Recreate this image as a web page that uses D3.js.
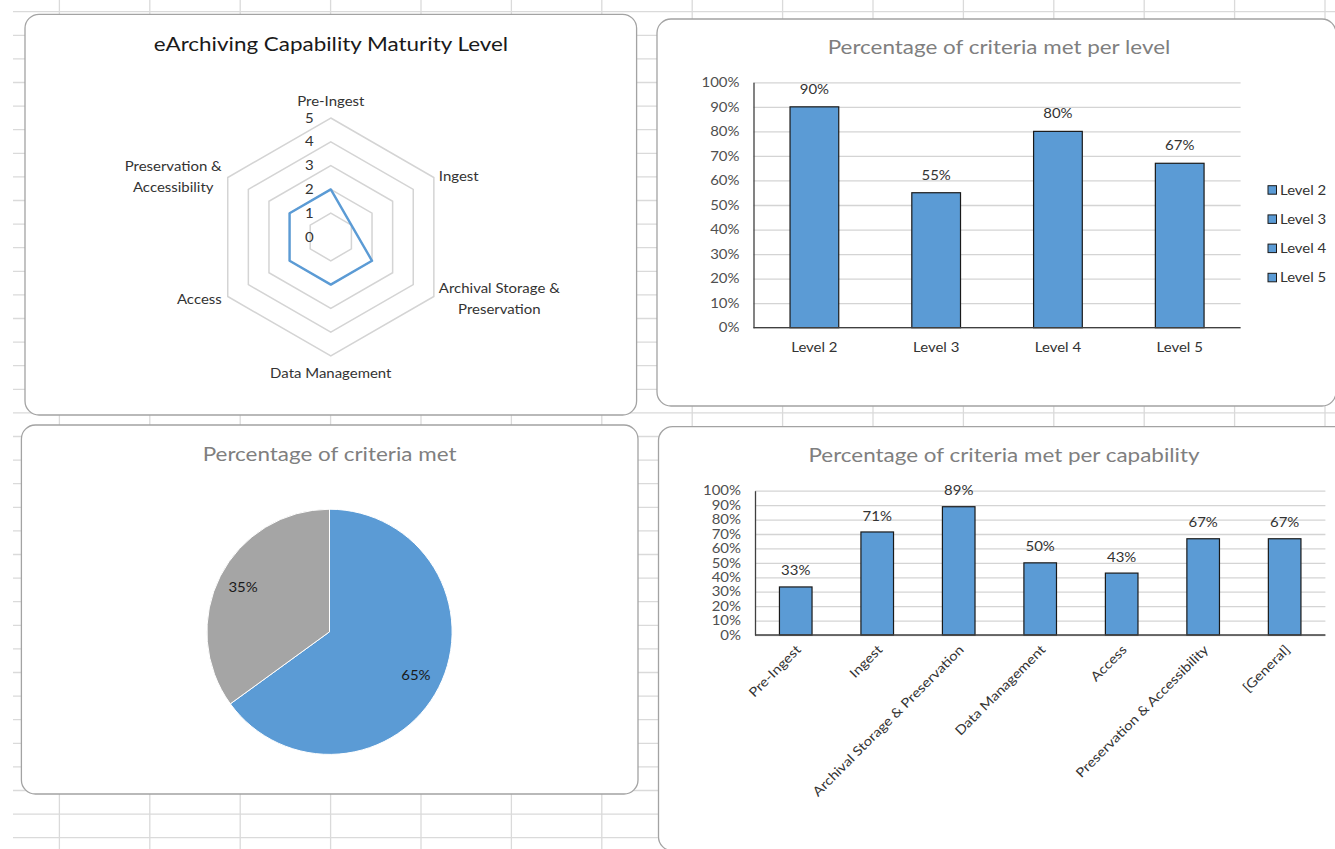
<!DOCTYPE html>
<html>
<head>
<meta charset="utf-8">
<script src="https://cdn.jsdelivr.net/npm/d3@7"></script>
<style>
html,body{margin:0;padding:0;background:#fff;overflow:hidden}
svg{display:block}
</style>
</head>
<body>
<svg id="c" width="1335" height="849"></svg>
<script>
// ---------------- DATA ----------------
const radarTitle = "eArchiving Capability Maturity Level";
const radarAxes = ["Pre-Ingest", "Ingest", "Archival Storage & Preservation", "Data Management", "Access", "Preservation & Accessibility"];
const radarAxisLines = [["Pre-Ingest"], ["Ingest"], ["Archival Storage &", "Preservation"], ["Data Management"], ["Access"], ["Preservation &", "Accessibility"]];
const radarValues = [2, 1, 2, 2, 2, 2];
const radarTicks = [0, 1, 2, 3, 4, 5];

const levelTitle = "Percentage of criteria met per level";
const levels = ["Level 2", "Level 3", "Level 4", "Level 5"];
const levelValues = [0.90, 0.55, 0.80, 0.67];

const pieTitle = "Percentage of criteria met";
const pieCategories = ["Met", "Not met"];
const pieValues = [0.65, 0.35];

const capabilityTitle = "Percentage of criteria met per capability";
const capabilities = ["Pre-Ingest", "Ingest", "Archival Storage & Preservation", "Data Management", "Access", "Preservation & Accessibility", "[General]"];
const capabilityValues = [0.333, 0.714, 0.889, 0.50, 0.429, 0.667, 0.667];

const percentTicks = [0, 0.1, 0.2, 0.3, 0.4, 0.5, 0.6, 0.7, 0.8, 0.9, 1.0];

// ---------------- STYLE ----------------
const FONT = 'Lato, "Open Sans", sans-serif';
const SX = 1.15;               // horizontal text stretch
const BLUE = "#5b9bd5", GREY = "#a5a5a5";
const pct = d3.format(".0%");

const svg = d3.select("#c");

function txt(g, s, size, fill) {
  return g.append("text").text(s).attr("font-size", size).attr("fill", fill).attr("font-family", FONT);
}

// ---------------- SHEET GRID ----------------
const sheet = svg.append("g");
sheet.append("rect").attr("width", 1335).attr("height", 849).attr("fill", "#fff");
sheet.selectAll("line.v").data(d3.range(59.4, 1335, 90.4)).join("line")
  .attr("x1", d => d).attr("x2", d => d).attr("y1", 0).attr("y2", 849)
  .attr("stroke", "#dadada").attr("stroke-width", 1.3);
sheet.selectAll("line.h").data(d3.range(11.7, 849, 23.6)).join("line")
  .attr("x1", 13).attr("x2", 1335).attr("y1", d => d).attr("y2", d => d)
  .attr("stroke", "#dadada").attr("stroke-width", 1.3);

// ---------------- PANELS ----------------
const panels = [
  {x: 25, y: 14.3, w: 611.6, h: 400.7},
  {x: 657, y: 19, w: 679, h: 387},
  {x: 21.4, y: 425, w: 616.6, h: 369},
  {x: 658.5, y: 426.7, w: 700, h: 424}
];
svg.append("g").selectAll("rect").data(panels).join("rect")
  .attr("x", d => d.x).attr("y", d => d.y).attr("width", d => d.w).attr("height", d => d.h)
  .attr("rx", 14).attr("fill", "#fff").attr("stroke", "#a3a3a3").attr("stroke-width", 1.3);

// ---------------- RADAR ----------------
(function () {
  const g = svg.append("g");
  const cx = 330.8, cy = 237, R = 119;
  const r = d3.scaleLinear().domain([0, 5]).range([0, R]);
  const ang = d3.scalePoint().domain(radarAxes).range([0, 2 * Math.PI * 5 / 6]);
  const pt = (a, v) => [cx + r(v) * Math.sin(a), cy - r(v) * Math.cos(a)];

  txt(g, radarTitle, 19.5, "#1a1a1a").attr("x", 331).attr("y", 51).attr("text-anchor", "middle");

  radarTicks.filter(t => t > 0).forEach(t => {
    g.append("path")
      .attr("d", d3.line()(radarAxes.map(a => pt(ang(a), t))) + "Z")
      .attr("fill", "none").attr("stroke", "#d4d4d4").attr("stroke-width", 1.5);
  });
  radarTicks.forEach(t => {
    txt(g, String(t), 13, "#333").attr("x", cx - 17).attr("y", cy - r(t)).attr("dy", "0.35em").attr("text-anchor", "end");
  });

  g.append("path")
    .attr("d", d3.line()(radarAxes.map((a, i) => pt(ang(a), radarValues[i]))) + "Z")
    .attr("fill", "none").attr("stroke", BLUE).attr("stroke-width", 2.4).attr("stroke-linejoin", "round");

  radarAxes.forEach((a, i) => {
    const th = ang(a);
    const [vx, vy] = pt(th, 5);
    const lines = radarAxisLines[i];
    const ts = lines.map(l => txt(g, l, 13, "#333").attr("text-anchor", "middle").attr("dy", "0.35em"));
    const maxW = d3.max(ts, t => t.node().getComputedTextLength()) * SX;
    const lh = 21, tot = (lines.length - 1) * lh;
    const s = Math.sin(th), c = Math.cos(th);
    let x, y0;
    if (Math.abs(s) < 0.01) { x = vx; y0 = vy + (c > 0 ? -17 : 17) - tot / 2; }
    else if (s > 0) { x = vx + 5 + maxW / 2; y0 = vy + (c < 0 ? 2 : -1) - tot / 2; }
    else { x = vx - 6 - maxW / 2; y0 = vy + (c < 0 ? 3 : -1) - tot / 2; }
    ts.forEach((t, j) => t.attr("x", x).attr("y", y0 + j * lh));
  });
})();

// ---------------- BAR CHART helper ----------------
function barChart(g, cats, vals, o) {
  const x = d3.scaleBand().domain(cats).range([o.x0, o.x1]).paddingInner(0.6).paddingOuter(0.3);
  const y = d3.scaleLinear().domain([0, 1]).range([o.yb, o.yt]);
  // gridlines
  g.append("g").attr("transform", `translate(${o.x0},0)`)
    .call(d3.axisLeft(y).tickValues(percentTicks).tickSize(-(o.x1 - o.x0)).tickFormat(""))
    .call(s => { s.select(".domain").remove(); s.selectAll("line").attr("stroke", "#d4d4d4").attr("stroke-width", 1.3); });
  // y labels
  g.append("g").attr("transform", `translate(${o.x0},0)`)
    .call(d3.axisLeft(y).tickValues(percentTicks).tickSize(0).tickPadding(o.ypad).tickFormat(pct))
    .call(s => {
      s.select(".domain").remove();
      s.selectAll("text").attr("font-size", 13).attr("font-family", FONT).attr("fill", "#505050");
    });
  // bars
  g.append("g").selectAll("rect").data(vals).join("rect")
    .attr("x", (d, i) => x(cats[i])).attr("width", x.bandwidth())
    .attr("y", d => y(d)).attr("height", d => y(0) - y(d))
    .attr("fill", BLUE).attr("stroke", "#1a1a1a").attr("stroke-width", 1.2);
  // data labels
  g.append("g").selectAll("text").data(vals).join("text")
    .attr("x", (d, i) => x(cats[i]) + x.bandwidth() / 2).attr("y", d => y(d) - o.lab)
    .attr("dy", "0.35em").attr("text-anchor", "middle")
    .attr("font-size", 13).attr("font-family", FONT).attr("fill", "#333")
    .text(d => pct(d));
  // y axis line
  g.append("g").attr("transform", `translate(${o.x0},0)`)
    .call(d3.axisLeft(y).tickValues([]).tickSizeOuter(0))
    .call(s => s.select(".domain").attr("stroke", "#404040").attr("stroke-width", 1.3));
  // x axis
  const xa = g.append("g").attr("transform", `translate(0,${o.yb})`)
    .call(d3.axisBottom(x).tickSize(0).tickSizeOuter(0));
  xa.select(".domain").attr("stroke", "#404040").attr("stroke-width", 1.3).attr("d", `M${o.x0},0H${o.x1}`);
  xa.selectAll("text").attr("font-size", 13).attr("font-family", FONT).attr("fill", "#333");
  return {x, y, xa};
}

// ---------------- LEVEL BAR CHART ----------------
(function () {
  const g = svg.append("g");
  txt(g, levelTitle, 19.5, "#7f7f7f").attr("x", 999).attr("y", 53.5).attr("text-anchor", "middle");
  const c = barChart(g, levels, levelValues, {x0: 753.5, x1: 1240.6, yb: 327.7, yt: 82.3, ypad: 14, lab: 17.5});
  c.xa.selectAll("text").attr("y", 19.6).attr("dy", "0.35em");
  // legend
  const lg = g.append("g").selectAll("g").data(levels).join("g")
    .attr("transform", (d, i) => `translate(1268,${190 + i * 29.2})`);
  lg.append("rect").attr("x", 0).attr("y", -4.3).attr("width", 8.5).attr("height", 8.5)
    .attr("fill", BLUE).attr("stroke", "#1a1a1a").attr("stroke-width", 1);
  lg.append("text").attr("x", 12).attr("dy", "0.35em").text(d => d)
    .attr("font-size", 13).attr("font-family", FONT).attr("fill", "#333");
})();

// ---------------- PIE ----------------
(function () {
  const g = svg.append("g");
  txt(g, pieTitle, 19.5, "#7f7f7f").attr("x", 329.6).attr("y", 461).attr("text-anchor", "middle");
  const cx = 329.5, cy = 631.8, R = 122.6;
  const arcs = d3.pie().sort(null)(pieValues);
  const arc = d3.arc().innerRadius(0).outerRadius(R);
  const lab = d3.arc().innerRadius(97).outerRadius(97);
  const pg = g.append("g").attr("transform", `translate(${cx},${cy})`);
  pg.selectAll("path").data(arcs).join("path").attr("d", arc)
    .attr("fill", (d, i) => [BLUE, GREY][i]).attr("stroke", "#fff").attr("stroke-width", 1);
  pg.selectAll("text").data(arcs).join("text")
    .attr("transform", d => `translate(${lab.centroid(d)})`)
    .attr("text-anchor", "middle").attr("dy", "0.35em")
    .attr("font-size", 13).attr("font-family", FONT).attr("fill", "#1a1a1a")
    .text(d => pct(d.data));
})();

// ---------------- CAPABILITY BAR CHART ----------------
(function () {
  const g = svg.append("g");
  txt(g, capabilityTitle, 19.5, "#7f7f7f").attr("x", 1004).attr("y", 462).attr("text-anchor", "middle");
  const c = barChart(g, capabilities, capabilityValues, {x0: 755, x1: 1325.4, yb: 635, yt: 490.7, ypad: 14, lab: 16});
  c.xa.selectAll("text").attr("y", 0).attr("dy", "0").attr("text-anchor", "end")
    .attr("transform", "translate(6,15.5) rotate(-45)");
})();

// ---------------- stretch text horizontally ----------------
svg.selectAll("text").each(function () {
  const w = this.getComputedTextLength();
  if (w > 0) {
    this.setAttribute("textLength", (w * SX).toFixed(2));
    this.setAttribute("lengthAdjust", "spacingAndGlyphs");
  }
});
</script>
</body>
</html>
